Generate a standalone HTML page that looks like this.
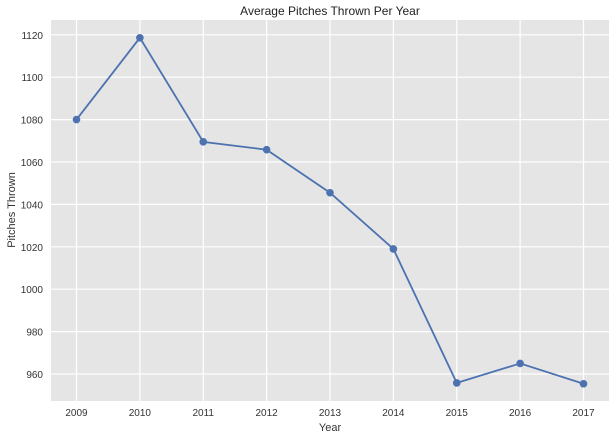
<!DOCTYPE html>
<html><head><meta charset="utf-8"><style>
body{margin:0;background:#fff;font-family:"Liberation Sans",sans-serif;}
</style></head><body>
<svg id="c" width="615" height="438" font-family="Liberation Sans, sans-serif"></svg>
<script>
const years=[2009,2010,2011,2012,2013,2014,2015,2016,2017];
const pitches=[1080,1118.6,1069.5,1065.8,1045.5,1019,955.8,965,955.4];
const yTicks=[960,980,1000,1020,1040,1060,1080,1100,1120];
const L=51,R=609,T=20,B=401;
const x=v=>76.5+(v-2009)*63.375;
const y=v=>374-(v-960)*2.12;
const s=document.getElementById('c');const NS='http://www.w3.org/2000/svg';
function mk(t,a,txt){const e=document.createElementNS(NS,t);for(const k in a)e.setAttribute(k,a[k]);if(txt!=null)e.textContent=txt;s.appendChild(e);return e;}
let e=mk('rect',{x:L,y:T,width:R-L,height:B-T,fill:'#e5e5e5'});

yTicks.forEach(v=>{let g=mk('line',{x1:L,x2:R,y1:y(v),y2:y(v),stroke:'#fff','stroke-width':1.2});

let t=mk('text',{x:43,y:y(v)+4,'text-anchor':'end','font-size':10,fill:'#333'},v);
});
years.forEach(v=>{let g=mk('line',{x1:x(v),x2:x(v),y1:T,y2:B,stroke:'#fff','stroke-width':1.2});

let t=mk('text',{x:x(v),y:416,'text-anchor':'middle','font-size':10,fill:'#333'},v);
});
let p=mk('polyline',{points:years.map((v,i)=>x(v)+','+y(pitches[i])).join(' '),fill:'none',stroke:'#4c72b0','stroke-width':1.8});

years.forEach((v,i)=>{let c=mk('circle',{cx:x(v),cy:y(pitches[i]),r:3.8,fill:'#4c72b0'});
});
let t1=mk('text',{x:330,y:15,'text-anchor':'middle','font-size':12,fill:'#222'},'Average Pitches Thrown Per Year');

let t2=mk('text',{x:330,y:431,'text-anchor':'middle','font-size':11,fill:'#333'},'Year');

let t3=mk('text',{x:15,y:210,'text-anchor':'middle','font-size':11,fill:'#333',transform:'rotate(-90 15 210)'},'Pitches Thrown');

</script>
</body></html>
